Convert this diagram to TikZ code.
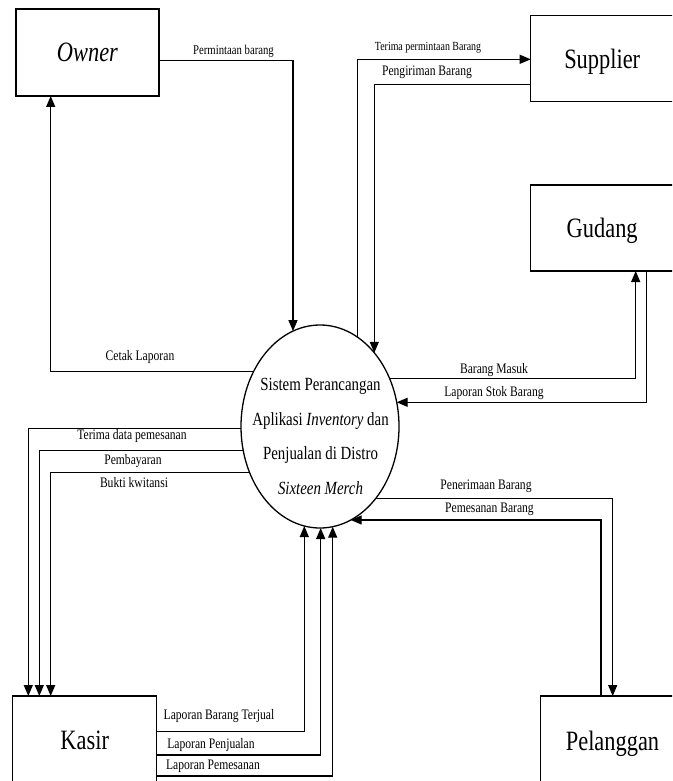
\documentclass[tikz,border=0pt]{standalone}
\usepackage{fontspec}
\setmainfont{Liberation Serif}[FakeStretch=0.8]
\usetikzlibrary{arrows.meta,shapes.geometric}
\begin{document}
\begin{tikzpicture}[x=1pt,y=-1pt,line width=1.3pt,
  ent/.style={draw,line width=1.3pt,inner sep=0pt,outer sep=0pt,minimum width=143pt,minimum height=86pt,
    font=\fontsize{28}{30}\selectfont,text height=19pt,text depth=0pt},
  flow/.style={draw,line width=1.3pt,-{Triangle[length=11pt,width=9pt]}},
  lbl/.style={inner sep=0pt,font=\fontsize{14.5}{16}\selectfont},
  proc/.style={inner sep=0pt,anchor=base,font=\fontsize{18.6}{20}\selectfont}]
\useasboundingbox (0,0) rectangle (672,781);
\clip (0,0) rectangle (672,781);
% entities
\node[ent,minimum height=87pt] (owner) at (87.5,52.5) {\textit{Owner}};
\node[ent] (sup) at (602.2,58.7) {Supplier};
\node[ent] (gud) at (602.2,228) {Gudang};
\node[ent,minimum width=144pt,minimum height=88pt] (kasir) at (84.7,740) {Kasir};
\node[ent,minimum width=143.6pt,minimum height=88pt,text height=20pt] (pel) at (612.5,740) {Pelanggan};
% process
\node[draw,ellipse,line width=1.3pt,inner sep=0pt,outer sep=0pt,minimum width=158pt,minimum height=203pt] (el) at (320,426.5) {};
\node[proc] (t1) at (320.5,390.7) {Sistem Perancangan};
\node[proc] (t2) at (320.5,425.1) {Aplikasi \textit{Inventory} dan};
\node[proc] (t3) at (320.5,459.5) {Penjualan di Distro};
\node[proc] (t4) at (320.5,494) {\textit{Sixteen Merch}};
% points on the ellipse border
\coordinate (eoi) at (293,331.1);
\coordinate (ec) at (253.5,371.7);
\coordinate (eso) at (357.3,337);
\coordinate (esi) at (374.3,352.8);
\coordinate (ego) at (389.5,378.3);
\coordinate (egi) at (396.7,402.3);
\coordinate (ek1) at (241,428.3);
\coordinate (ek2) at (243.3,450.7);
\coordinate (ek3) at (249.5,472.3);
\coordinate (epo) at (375.8,498.3);
\coordinate (epi) at (350.7,520);
\coordinate (ka1) at (304.3,526);
\coordinate (ka2) at (320.7,528);
\coordinate (ka3) at (332.7,526.7);
% flows
\draw[flow] (owner.east |- 0,60.7) -| (eoi);
\draw[flow] (ec) -| (owner.south -| 50.7,0);
\draw[flow] (eso) |- (sup.west |- 0,59.3);
\draw[flow] (sup.west |- 0,84.3) -| (esi);
\draw[flow] (ego) -| (gud.south -| 635.7,0);
\draw[flow] (gud.south -| 646.7,0) |- (egi);
\draw[flow] (ek1) -| (kasir.north -| 28.3,0);
\draw[flow] (ek2) -| (kasir.north -| 39.3,0);
\draw[flow] (ek3) -| (kasir.north -| 50.7,0);
\draw[flow] (epo) -| (pel.north -| 612.7,0);
\draw[flow] (pel.north -| 601,0) |- (epi);
\draw[flow] (kasir.east |- 0,731.7) -| (ka1);
\draw[flow] (kasir.east |- 0,755) -| (ka2);
\draw[flow] (kasir.east |- 0,776) -| (ka3);
% labels
\node[lbl,font=\fontsize{13.4}{15}\selectfont] (l1) at (233.5,51) {Permintaan barang};
\node[lbl,font=\fontsize{12.4}{14}\selectfont] (l2) at (428,47.5) {Terima permintaan Barang};
\node[lbl] (l3) at (427,72.5) {Pengiriman Barang};
\node[lbl] (l4) at (140,357) {Cetak Laporan};
\node[lbl] (l5) at (494,370.5) {Barang Masuk};
\node[lbl] (l6) at (494,393) {Laporan Stok Barang};
\node[lbl] (l7) at (132,436.5) {Terima data pemesanan};
\node[lbl] (l8) at (133,461) {Pembayaran};
\node[lbl] (l9) at (134,482.5) {Bukti kwitansi};
\node[lbl] (l10) at (486,486.5) {Penerimaan Barang};
\node[lbl] (l11) at (489.5,509) {Pemesanan Barang};
\node[lbl] (l12) at (219,716.5) {Laporan Barang Terjual};
\node[lbl] (l13) at (211,745) {Laporan Penjualan};
\node[lbl] (l14) at (213,766.5) {Laporan Pemesanan};
\end{tikzpicture}
\end{document}
